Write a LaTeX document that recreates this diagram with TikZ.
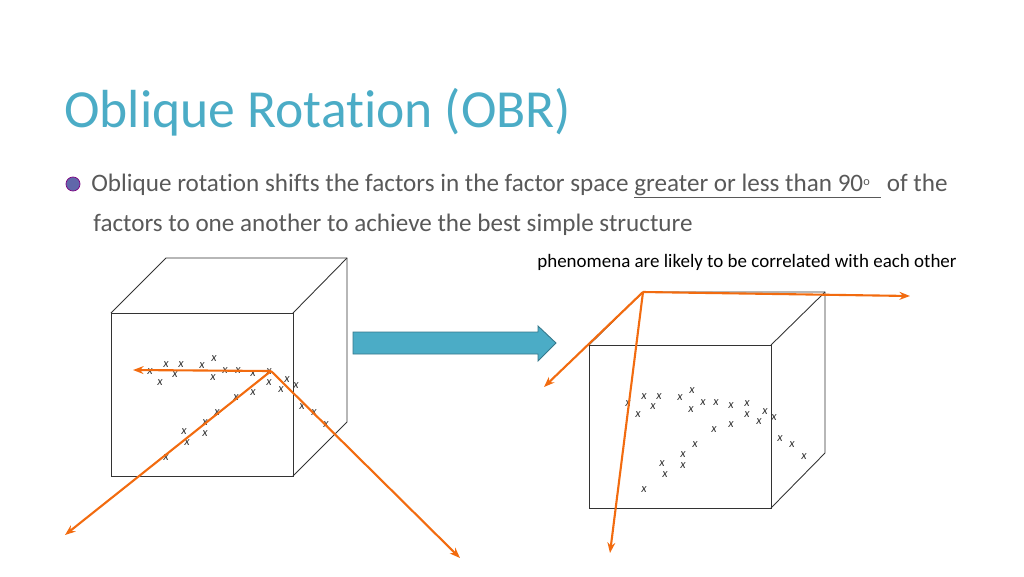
\documentclass[tikz,border=0pt]{standalone}
\usepackage{fontspec}
\setmainfont[Ligatures=NoCommon]{Carlito}
\usetikzlibrary{arrows.meta}
\definecolor{teal}{HTML}{4BACC6}
\definecolor{axis}{HTML}{F26B0F}
\definecolor{txtgray}{HTML}{595959}
\newcommand{\marklist}{150/372,166/365,181/365,175/375,160/383,202/366,214/359,213/378,225/371,238/371,253/374,269/372,269/383,287/380,281/390,296/386,302/407,314/413,326/425,253/393,236/398,217/413,205/423,205/434,184/432,187/443,166/458}

\begin{document}
\begin{tikzpicture}[x=0.02cm, y=-0.02cm,
  edge/.style={draw=black!80, line width=0.5pt},
  factor/.style={draw=axis, line width=1.2pt, -{Stealth[length=6pt]}},
  xmark/.style={font=\fontsize{7}{7}\selectfont\itshape, inner sep=0pt, text=black!80}]

\useasboundingbox (0,0) rectangle (1024,576);

% title and text
\node[anchor=base west, inner sep=0, text=teal, font=\fontsize{30.5}{30.5}\selectfont] (title) at (64,127) {Oblique Rotation (OBR)};
\node[circle, fill=teal!60!violet, draw=violet, inner sep=0, minimum size=8pt] (bullet) at (73,184) {};
\node[anchor=base west, inner sep=0, text=txtgray, font=\fontsize{14.3}{14.3}\selectfont] (line1) at (91,191)
  {Oblique rotation shifts the factors in the factor space \underline{greater or less than 90\raisebox{0.5ex}{\scriptsize o}\ \ } of the};
\node[anchor=base west, inner sep=0, text=txtgray, font=\fontsize{14.3}{14.3}\selectfont] (line2) at (93,231)
  {factors to one another to achieve the best simple structure};
\node[anchor=base west, inner sep=0, font=\fontsize{10.8}{10.8}\selectfont] (note) at (537,267)
  {phenomena are likely to be correlated with each other};

% left cube
\draw[edge] (111,313) rectangle (293,476);
\draw[edge] (111,313) -- (166,258) -- (347,258) -- (347,422) -- (293,476);
\draw[edge] (293,313) -- (347,258);
\foreach \px/\py in \marklist
  \node[xmark] at (\px,\py) {x};
\coordinate (lo) at (271,371);
\coordinate (la) at (133,370);
\coordinate (lb) at (65,535);
\coordinate (lc) at (460,558);
\draw[factor] (lo) -- (la);
\draw[factor] (lo) -- (lb);
\draw[factor] (lo) -- (lc);

% block arrow
\fill[teal, draw=teal!70!black, line width=0.5pt] (353,332) -- (538,332) -- (538,326) -- (556,343)
  -- (538,361) -- (538,354) -- (353,354) -- cycle;

% right cube
\draw[edge] (589,345) rectangle (771,508);
\draw[edge] (589,345) -- (643,292) -- (825,292) -- (825,453) -- (771,508);
\draw[edge] (771,345) -- (825,292);
\begin{scope}[shift={(478,32)}]
\foreach \px/\py in \marklist
  \node[xmark] at (\px,\py) {x};
\end{scope}
\coordinate (ro) at (643,292);
\coordinate (ra) at (910,296);
\coordinate (rb) at (544,387);
\coordinate (rc) at (610,553);
\draw[factor] (ro) -- (ra);
\draw[factor] (ro) -- (rb);
\draw[factor] (ro) -- (rc);

\end{tikzpicture}
\end{document}
